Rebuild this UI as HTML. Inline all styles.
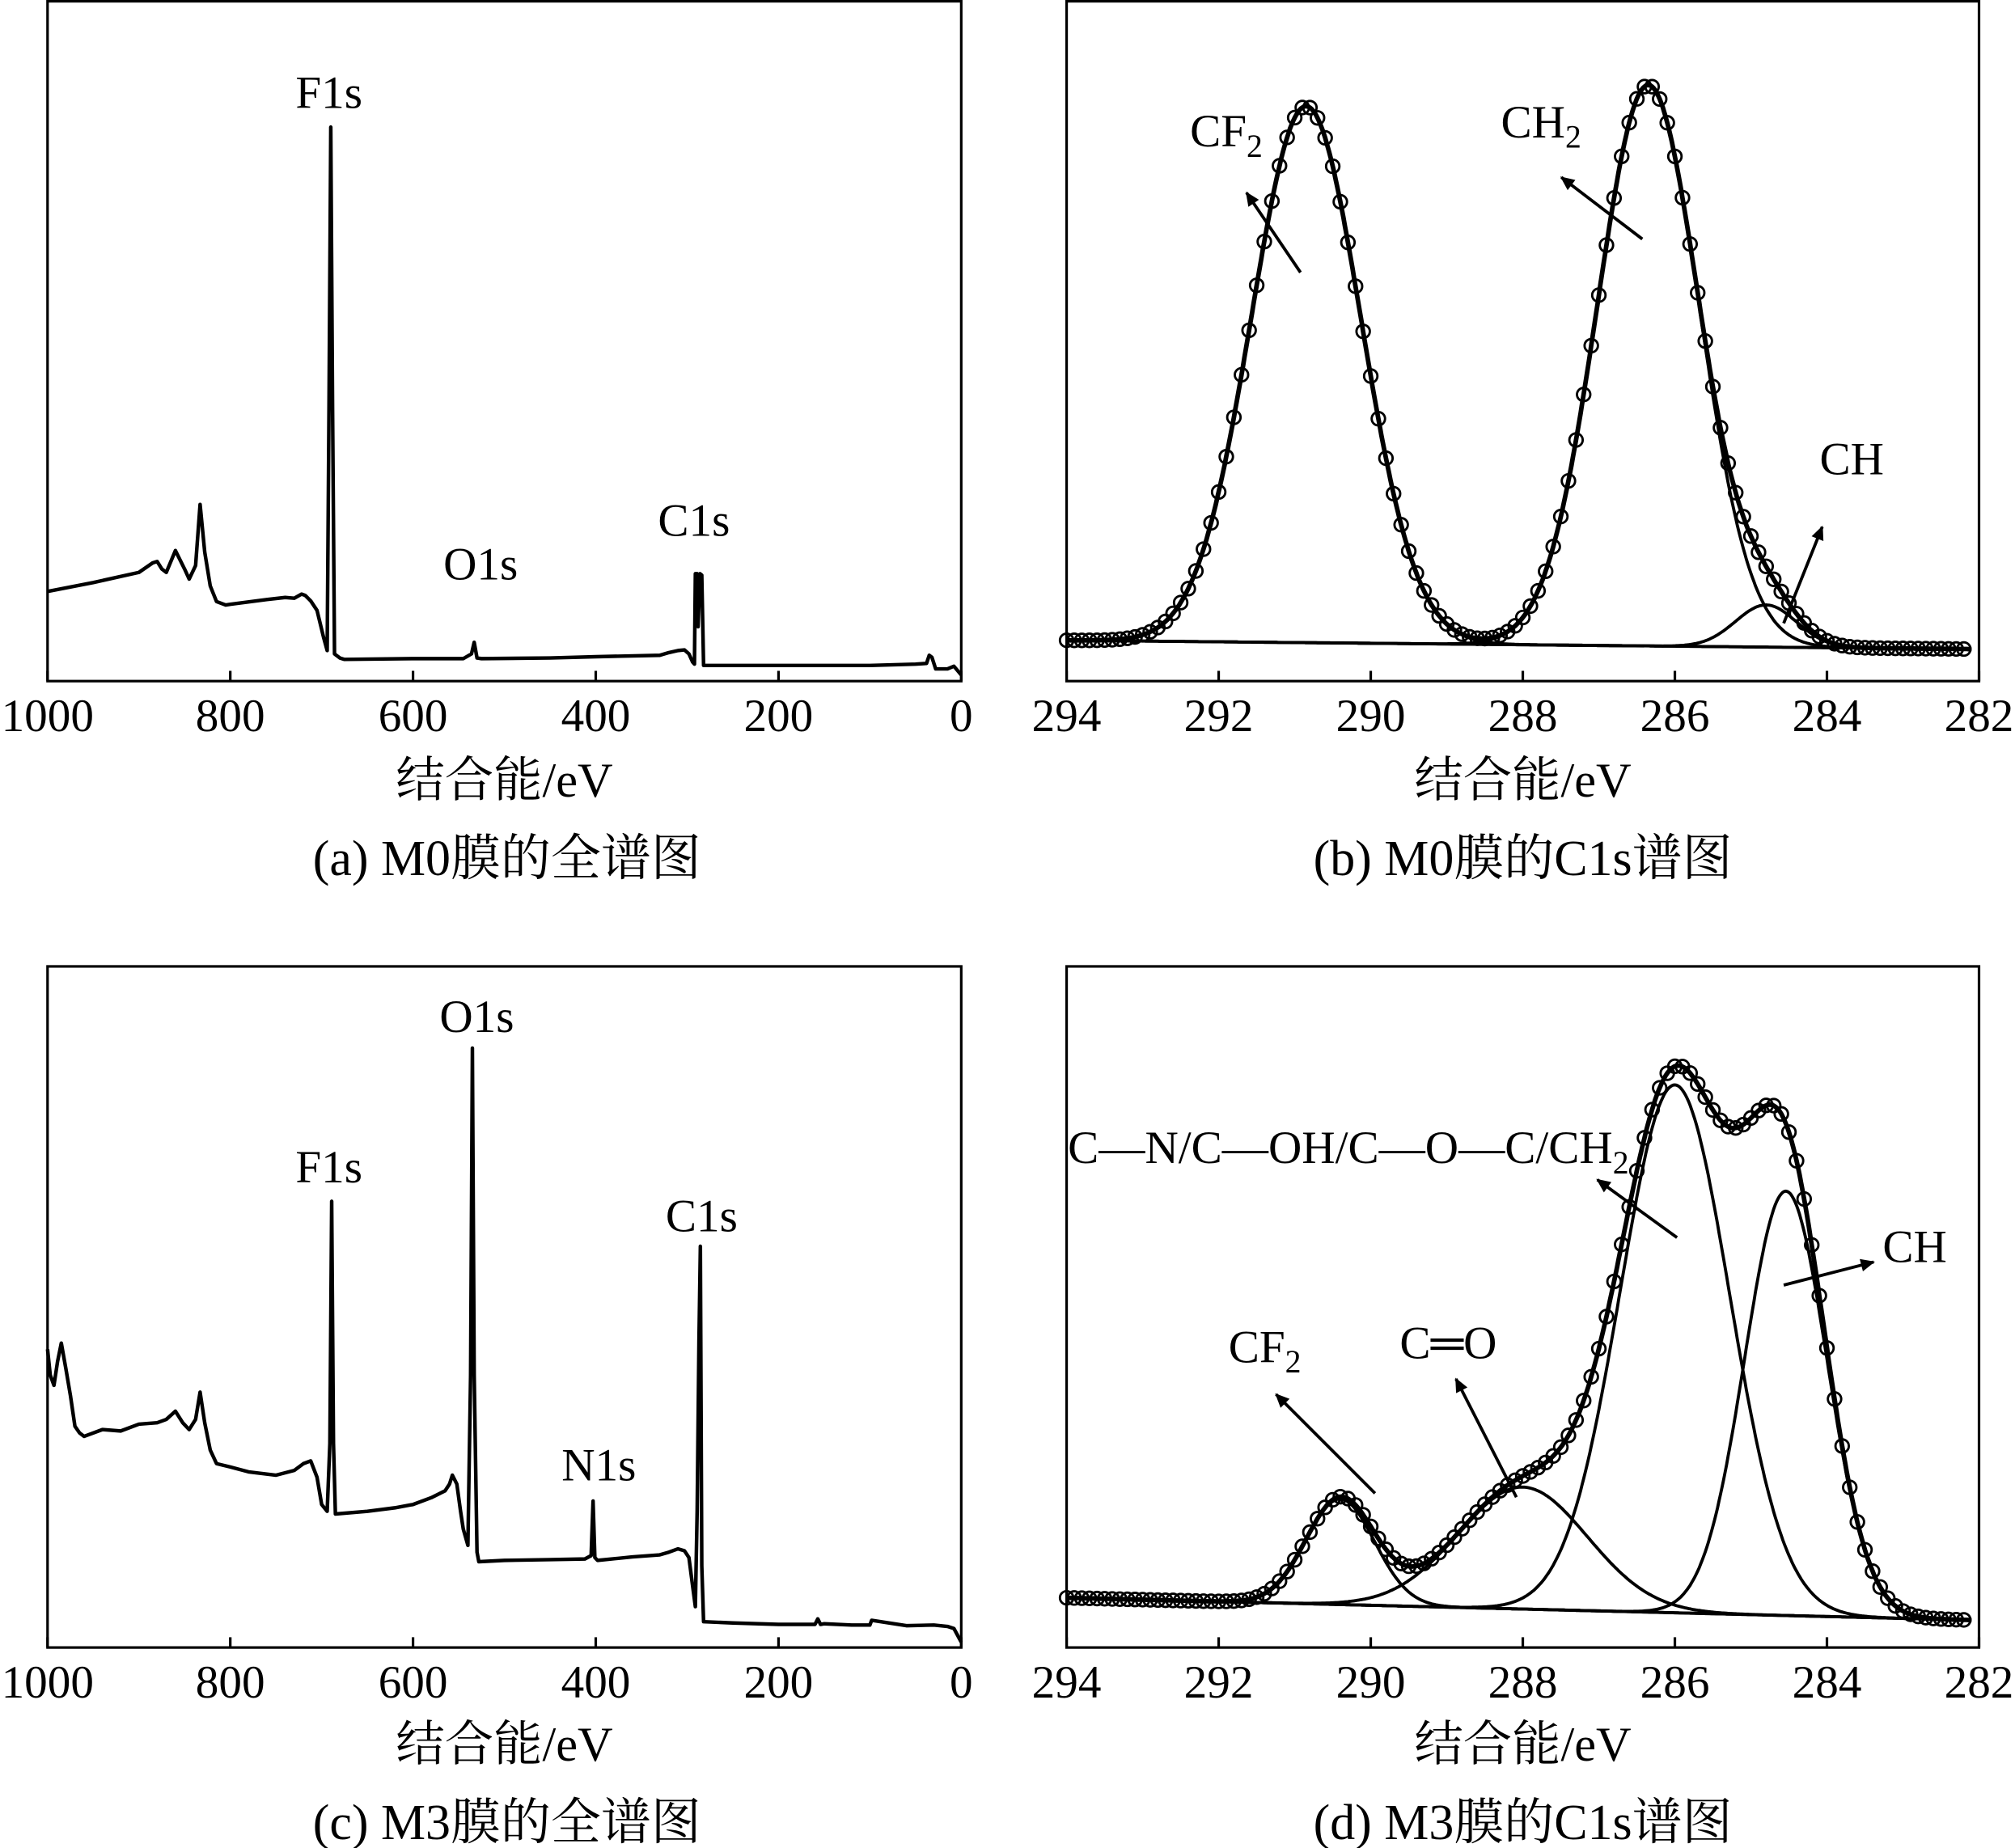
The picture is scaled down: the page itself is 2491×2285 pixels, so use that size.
<!DOCTYPE html>
<html><head><meta charset="utf-8">
<style>
html,body{margin:0;padding:0;background:#fff;}
svg{display:block;}
text{font-family:"Liberation Serif","Noto Serif CJK SC",serif;fill:#000;}
</style></head>
<body>
<svg id="fig" width="2491" height="2285" viewBox="0 0 1568 1438" preserveAspectRatio="none" xmlns="http://www.w3.org/2000/svg" font-family="Liberation Serif, Noto Serif CJK SC, serif">
<defs>
<marker id="arr" viewBox="0 0 10 10" refX="9" refY="5" markerWidth="13" markerHeight="11" orient="auto-start-reverse" markerUnits="userSpaceOnUse">
<path d="M0,0.5 L10,5 L0,9.5 z" fill="#000"/>
</marker>
</defs>
<g id="root"></g>
</svg>
<script>
// ---------- Data ----------
const surveyAEnergy = [1000,950,900,885,880,875,870,860,850,845,838,833,828,822,815,805,800,760,740,730,722,718,712,705,698,694,692,690,688,686,684,680,675,600,545,536,533,530,525,450,400,330,320,310,303,298,294,292,291,289,288,286,284,282,200,100,50,38,35,32,28,15,8,0];
const surveyAValue  = [13.2,14.5,16,17.4,17.6,16.5,16,19.2,16.5,15,17,26,19,14,11.7,11.2,11.3,12,12.3,12.2,12.8,12.6,11.8,10.4,6.5,4.5,40,81.5,40,4,3.8,3.4,3.2,3.3,3.3,4,5.7,3.4,3.3,3.4,3.6,3.8,4.2,4.5,4.6,4,2.8,2.5,15.8,15.8,8,15.8,15.6,2.3,2.3,2.3,2.5,2.6,3.8,3.5,1.8,1.8,2.2,0.9];
const surveyCEnergy = [1000,997,993,989,985,980,975,970,965,960,940,920,900,880,870,860,852,845,838,833,828,822,815,800,780,750,730,720,712,705,700,694,691,689,687,685,650,620,600,580,565,560,557,552,548,545,540,537,535,533,530,528,500,450,412,405,403,401,398,360,330,320,310,303,298,294,291,289,287,285.5,284,282,250,200,160,157,154,150,120,100,98,60,30,15,8,0];
const surveyCValue  = [43.8,40,38.5,42,44.7,41,37,32.5,31.5,31,32,31.8,32.8,33,33.5,34.7,33,32,33.5,37.5,33,29,27,26.5,25.8,25.3,26,27,27.4,25,21,20,30,65.5,30,19.6,20,20.5,21,22,23,24,25.3,24,20,17.4,15,40,88,40,14,12.6,12.8,12.9,13,13.5,21.5,13.2,12.8,13.3,13.6,14,14.5,14.2,13.2,9,6,20,45,58.9,12,3.8,3.6,3.4,3.4,4.2,3.4,3.5,3.3,3.3,4,3.2,3.3,3.1,2.8,0.8];
const compBName   = ["CF2","CH2","CH"];
const compBCenter = [290.85, 286.35, 284.8];
const compBHeight = [78.9, 82.5, 6.2];
const compBSigma  = [0.72, 0.67, 0.40];
const baseB       = [6.0, 4.7];
const compDName   = ["CF2","C=O","C-N/C-OH/C-O-C/CH2","CH"];
const compDCenter = [290.4, 288.0, 286.0, 284.54];
const compDHeight = [15.5, 17.9, 77.5, 62.3];
const compDSigma  = [0.45, 0.85, 0.72, 0.54];
const baseD       = [7.3, 4.0];
const surveyTicks = [1000,800,600,400,200,0];
const c1sTicks    = [294,292,290,288,286,284,282];

// ---------- Helpers ----------
const NS = "http://www.w3.org/2000/svg";
const root = document.getElementById("root");
function mk(tag, attrs, parent){
  const e = document.createElementNS(NS, tag);
  for (const k in attrs) e.setAttribute(k, attrs[k]);
  (parent||root).appendChild(e);
  return e;
}
function txt(parent, x, y, s, size, anchor){
  const t = mk("text", {x:x, y:y, "font-size":size, "text-anchor":anchor||"middle"}, parent);
  t.textContent = s;
  return t;
}
function makeAxes(L, R, T, B, emax, emin){
  return {
    x: e => L + (emax - e) / (emax - emin) * (R - L),
    y: v => B - v / 100 * (B - T)
  };
}
function drawFrame(g, L, R, T, B, ticks, ax, name){
  const fr = mk("rect", {x:L, y:T, width:R-L, height:B-T, fill:"none", stroke:"#000", "stroke-width":2}, g);
  
  
  const tg = mk("g", {}, g);
  
  
  ticks.forEach(t => {
    const x = ax.x(t);
    mk("line", {x1:x, y1:B, x2:x, y2:B-8, stroke:"#000", "stroke-width":2}, tg);
    const lb = txt(tg, x, B + 39, String(t), 36);
    
    
  });
}
function gauss(e, c, h, s){ return h * Math.exp(-(e-c)*(e-c)/(2*s*s)); }

function surveyPanel(name, L, R, T, B, E, V, labels, title, caption, titleY, capY){
  const g = mk("g", {});
  
  
  const ax = makeAxes(L, R, T, B, 1000, 0);
  drawFrame(g, L, R, T, B, surveyTicks, ax, name);
  const pts = E.map((e,i) => ax.x(e).toFixed(1) + "," + ax.y(V[i]).toFixed(1)).join(" ");
  const pl = mk("polyline", {points:pts, fill:"none", stroke:"#000", "stroke-width":2.8, "stroke-linejoin":"round"}, g);
  
  
  labels.forEach(l => {
    const t = txt(g, l[1], l[2], l[0], 36);
    
    
  });
  const at = txt(g, (L+R)/2, titleY, title, 38);
  
  
  const cp = txt(g, (L+R)/2 + 2, capY, caption, 39);
  
  
}

function c1sPanel(name, L, R, T, B, C, H, S, base, caption, titleY, capY){
  const g = mk("g", {});
  
  
  const ax = makeAxes(L, R, T, B, 294, 282);
  drawFrame(g, L, R, T, B, c1sTicks, ax, name);
  const bl = e => base[0] + (base[1]-base[0]) * (294 - e) / 12;
  const env = e => { let s = bl(e); for (let i=0;i<C.length;i++) s += gauss(e, C[i], H[i], S[i]); return s; };
  const step = 0.02;
  const bp = mk("line", {x1:ax.x(294), y1:ax.y(bl(294)), x2:ax.x(282.1), y2:ax.y(bl(282.1)), stroke:"#000", "stroke-width":2.4}, g);
  
  
  for (let i=0;i<C.length;i++){
    let p = [];
    for (let e=294; e>=282.1; e-=step) p.push(ax.x(e).toFixed(1)+","+ax.y(bl(e)+gauss(e,C[i],H[i],S[i])).toFixed(1));
    const pl = mk("polyline", {points:p.join(" "), fill:"none", stroke:"#000", "stroke-width":2.4}, g);
    
    
  }
  let p = [];
  for (let e=294; e>=282.1; e-=step) p.push(ax.x(e).toFixed(1)+","+ax.y(env(e)).toFixed(1));
  const ev = mk("polyline", {points:p.join(" "), fill:"none", stroke:"#000", "stroke-width":3.6}, g);
  
  
  const dg = mk("g", {}, g);
  
  
  for (let e=294; e>=282.1; e-=0.1){
    mk("circle", {cx:ax.x(e), cy:ax.y(env(e)), r:5.2, fill:"none", stroke:"#000", "stroke-width":1.8}, dg);
  }
  const at = txt(g, (L+R)/2, titleY, "结合能/eV", 38);
  
  
  const cp = txt(g, (L+R)/2, capY, caption, 39);
  
  
  return g;
}
function sub(g, x, y, main, subs, name){
  const t = mk("text", {x:x, y:y, "font-size":36, "text-anchor":"start"}, g);
  
  
  t.appendChild(document.createTextNode(main));
  const ts = document.createElementNS(NS, "tspan");
  ts.setAttribute("font-size", 25);
  ts.setAttribute("dy", 8);
  ts.textContent = subs;
  t.appendChild(ts);
}
function arrow(g, x1, y1, x2, y2){
  const a = mk("line", {x1:x1, y1:y1, x2:x2, y2:y2, stroke:"#000", "stroke-width":2.4, "marker-end":"url(#arr)"}, g);
  
  
}

surveyPanel("panel-a-m0-survey", 37, 748, 1, 530, surveyAEnergy, surveyAValue,
  [["F1s",256,84],["O1s",374,451],["C1s",540,417]], "结合能/eV", "(a) M0膜的全谱图", 620, 681);
surveyPanel("panel-c-m3-survey", 37, 748, 752, 1282, surveyCEnergy, surveyCValue,
  [["O1s",371,803],["F1s",256,920],["N1s",466,1152],["C1s",546,958]], "结合能/eV", "(c) M3膜的全谱图", 1370, 1431);

const gb = c1sPanel("panel-b-m0-c1s", 830, 1540, 1, 530, compBCenter, compBHeight, compBSigma, baseB, "(b) M0膜的C1s谱图", 620, 681);
sub(gb, 926, 114, "CF", "2", "label-cf2");
arrow(gb, 1012, 212, 970, 150);
sub(gb, 1168, 107, "CH", "2", "label-ch2");
arrow(gb, 1278, 186, 1215, 138);
const chb = txt(gb, 1441, 369, "CH", 36);


arrow(gb, 1388, 485, 1418, 410);

const gd = c1sPanel("panel-d-m3-c1s", 830, 1540, 752, 1282, compDCenter, compDHeight, compDSigma, baseD, "(d) M3膜的C1s谱图", 1370, 1431);
sub(gd, 831, 905, "C—N/C—OH/C—O—C/CH", "2", "label-cn-coh-coc-ch2");
arrow(gd, 1305, 963, 1243, 918);
const chd = txt(gd, 1490, 982, "CH", 36);


arrow(gd, 1388, 1000, 1458, 982);
sub(gd, 956, 1060, "CF", "2", "label-cf2");
arrow(gd, 1070, 1162, 993, 1085);
const co = txt(gd, 1127, 1057, "C═O", 36);


arrow(gd, 1180, 1165, 1133, 1073);
</script>
</body></html>
